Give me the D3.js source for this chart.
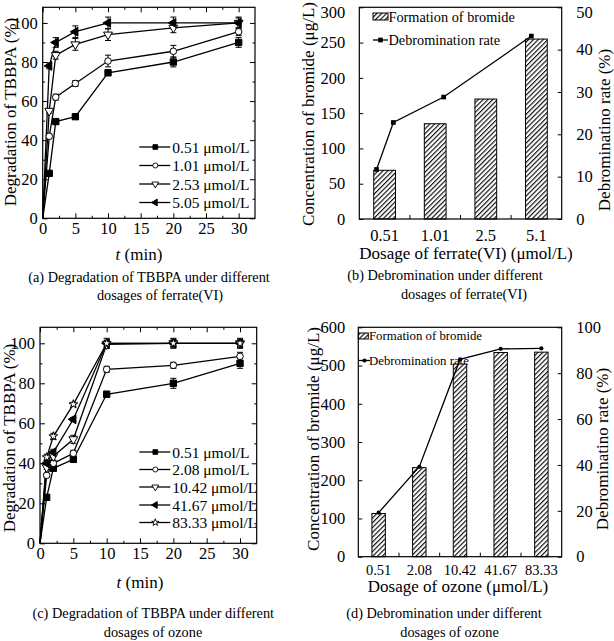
<!DOCTYPE html>
<html><head><meta charset="utf-8">
<script src="https://cdn.jsdelivr.net/npm/d3@7/dist/d3.min.js"></script>
<style>
body{margin:0;background:#fff}
svg{display:block;background:#fff}
text{font-family:"Liberation Serif","Times New Roman",serif;fill:#000}
</style>
</head><body>
<svg id="c" width="614" height="641"></svg>
<script>
// ---------- DATA ----------
// (a) ferrate(VI) degradation
const timeA = [0, 1, 2, 5, 10, 20, 30];
const legendA = ["0.51 μmol/L", "1.01 μmol/L", "2.53 μmol/L", "5.05 μmol/L"];
const degA051 = [0, 23, 49.5, 52, 74.5, 80, 90];
const degA101 = [0, 42, 62, 69, 80.5, 85.5, 95.5];
const degA253 = [0, 55, 83.5, 89, 94, 97.5, 100];
const degA505 = [0, 78, 90, 95.5, 100, 100, 100];
const errA051 = [0, 1.2, 1.2, 1.2, 1.5, 2.5, 2.5];
const errA101 = [0, 1.2, 1.5, 1.5, 3, 3, 2];
const errA253 = [0, 1.2, 2, 3, 3, 2.5, 2.5];
const errA505 = [0, 1.5, 2.5, 3, 3, 3, 3];

// (c) ozone degradation
const timeC = [0, 1, 2, 5, 10, 20, 30];
const legendC = ["0.51 μmol/L", "2.08 μmol/L", "10.42 μmol/L", "41.67 μmol/L", "83.33 μmol/L"];
const degC051 = [0, 23, 37.5, 42, 74.5, 80, 90];
const degC208 = [0, 34, 40, 45, 87, 89, 93.5];
const degC1042 = [0, 38, 43.5, 52, 99.5, 100, 100];
const degC4167 = [0, 40, 45.5, 62, 100, 100, 100];
const degC8333 = [0, 43, 53.5, 69.5, 100, 100, 100];
const errC051 = [0, 1, 1.5, 1.5, 1.5, 2.5, 2.5];
const errC208 = [0, 1, 1.5, 1.5, 1.5, 1.5, 2];
const errC1042 = [0, 1, 2, 2, 2, 1.5, 1.5];
const errC4167 = [0, 1, 1.5, 1, 1.5, 2, 2];
const errC8333 = [0, 1.5, 1.5, 1, 2.5, 2.5, 2.5];

const timeTicks = [0, 5, 10, 15, 20, 25, 30];
const degTicks = [0, 20, 40, 60, 80, 100];

// (b) ferrate(VI) debromination
const catsB = ["0.51", "1.01", "2.5", "5.1"];
const doseB = [0.51, 1.01, 2.5, 5.1];
const bromideB = [69, 135, 170, 255];
const rateB = [11.7, 22.8, 28.8, 43.2];
const leftTicksB = [0, 50, 100, 150, 200, 250, 300];
const rightTicksB = [0, 10, 20, 30, 40, 50];

// (d) ozone debromination
const catsD = ["0.51", "2.08", "10.42", "41.67", "83.33"];
const bromideD = [113, 233, 504, 534, 535];
const rateD = [19.2, 39.2, 86, 90.6, 90.8];
const leftTicksD = [0, 100, 200, 300, 400, 500, 600];
const rightTicksD = [0, 20, 40, 60, 80, 100];

// ---------- DRAWING ----------
const svg = d3.select("#c");
const defs = svg.append("defs");
const pat = defs.append("pattern").attr("id", "hatch").attr("patternUnits", "userSpaceOnUse")
  .attr("width", 3.4).attr("height", 3.4).attr("patternTransform", "rotate(45)");
pat.append("rect").attr("width", 3.4).attr("height", 3.4).attr("fill", "#fff");
pat.append("line").attr("x1", 0.6).attr("y1", 0).attr("x2", 0.6).attr("y2", 3.4)
  .attr("stroke", "#000").attr("stroke-width", 1.1);

const FF = '"Liberation Serif","Times New Roman",serif';
const TICKFS = 16.5, TITLEFS = 17, CAPFS = 14.3;

function styleAxis(sel, fs) {
  sel.attr("font-family", FF).attr("font-size", fs);
  sel.select(".domain").remove();
  sel.selectAll(".tick line").attr("stroke", "#000").attr("stroke-width", 1);
  sel.selectAll(".tick text").attr("fill", "#000");
}

function rotTitle(g, txt, cx, cy, fs) {
  g.append("text").attr("transform", `translate(${cx},${cy}) rotate(-90)`)
    .attr("text-anchor", "middle").attr("dominant-baseline", "central")
    .attr("font-family", FF).attr("font-size", fs).text(txt);
}
function ctext(g, txt, cx, y, fs) {
  return g.append("text").attr("x", cx).attr("y", y).attr("text-anchor", "middle")
    .attr("font-family", FF).attr("font-size", fs).text(txt);
}

function markerPath(kind, size) {
  const map = { square: d3.symbolSquare, circle: d3.symbolCircle, tri: d3.symbolTriangle, star: d3.symbolStar };
  return d3.symbol().type(map[kind]).size(size)();
}

function timePanel(box, times, series, legendLabels, legendRows, legendX) {
  const g = svg.append("g");
  const x = d3.scaleLinear().domain([0, 32.5]).range([box.l, box.r]);
  const y = d3.scaleLinear().domain([0, 108]).range([box.b, box.t]);
  const minorX = d3.range(2.5, 32.5, 5);
  const minorY = d3.range(10, 108, 20);
  g.append("g").attr("transform", `translate(0,${box.b})`)
    .call(d3.axisBottom(x).tickValues(timeTicks).tickSize(-5).tickPadding(4))
    .call(s => styleAxis(s, TICKFS));
  g.append("g").attr("transform", `translate(0,${box.b})`)
    .call(d3.axisBottom(x).tickValues(minorX).tickSize(-2.5).tickFormat(""))
    .call(s => styleAxis(s, TICKFS));
  g.append("g").attr("transform", `translate(0,${box.t})`)
    .call(d3.axisTop(x).tickValues(timeTicks).tickSize(-5).tickFormat(""))
    .call(s => styleAxis(s, TICKFS));
  g.append("g").attr("transform", `translate(0,${box.t})`)
    .call(d3.axisTop(x).tickValues(minorX).tickSize(-2.5).tickFormat(""))
    .call(s => styleAxis(s, TICKFS));
  g.append("g").attr("transform", `translate(${box.l},0)`)
    .call(d3.axisLeft(y).tickValues(degTicks).tickSize(-5).tickPadding(5))
    .call(s => styleAxis(s, TICKFS));
  g.append("g").attr("transform", `translate(${box.l},0)`)
    .call(d3.axisLeft(y).tickValues(minorY).tickSize(-2.5).tickFormat(""))
    .call(s => styleAxis(s, TICKFS));
  g.append("g").attr("transform", `translate(${box.r},0)`)
    .call(d3.axisRight(y).tickValues(degTicks).tickSize(-5).tickFormat(""))
    .call(s => styleAxis(s, TICKFS));
  g.append("g").attr("transform", `translate(${box.r},0)`)
    .call(d3.axisRight(y).tickValues(minorY).tickSize(-2.5).tickFormat(""))
    .call(s => styleAxis(s, TICKFS));

  const lg = g.append("g");
  series.forEach((s, i) => {
    const ly = legendRows[i];
    lg.append("line").attr("x1", legendX).attr("x2", legendX + 31).attr("y1", ly).attr("y2", ly)
      .attr("stroke", "#000").attr("stroke-width", 1.3);
    lg.append("path").attr("d", markerPath(s.kind, s.lsize))
      .attr("transform", `translate(${legendX + 16},${ly}) rotate(${s.rot || 0})`)
      .attr("fill", s.fill ? "#000" : "#fff").attr("stroke", "#000").attr("stroke-width", 0.9);
    lg.append("text").attr("x", legendX + 33).attr("y", ly).attr("dominant-baseline", "central")
      .attr("font-family", FF).attr("font-size", 15.5).text(legendLabels[i]);
  });

  const line = d3.line().x((d, i) => x(times[i])).y(d => y(d));
  series.forEach(s => {
    g.append("path").attr("d", line(s.values)).attr("fill", "none").attr("stroke", "#000").attr("stroke-width", 1.3);
  });
  series.forEach(s => {
    s.values.forEach((v, i) => {
      const e = s.err[i];
      if (e > 0) {
        const cx = x(times[i]);
        g.append("line").attr("x1", cx).attr("x2", cx).attr("y1", y(v - e)).attr("y2", y(v + e)).attr("stroke", "#000").attr("stroke-width", 1);
        [v - e, v + e].forEach(vv => g.append("line").attr("x1", cx - 3).attr("x2", cx + 3).attr("y1", y(vv)).attr("y2", y(vv)).attr("stroke", "#000").attr("stroke-width", 1));
      }
    });
  });
  series.forEach(s => {
    s.values.forEach((v, i) => {
      if (i === 0) return;
      g.append("path").attr("d", markerPath(s.kind, s.size))
        .attr("transform", `translate(${x(times[i])},${y(v)}) rotate(${s.rot || 0})`)
        .attr("fill", s.fill ? "#000" : "#fff").attr("stroke", "#000").attr("stroke-width", 1);
    });
  });

  g.append("rect").attr("x", box.l).attr("y", box.t).attr("width", box.r - box.l).attr("height", box.b - box.t)
    .attr("fill", "none").attr("stroke", "#000").attr("stroke-width", 1.2);
  return g;
}

// ----- Panel (a)
const boxA = { l: 42.7, r: 255, t: 7.3, b: 218.3 };
const gA = timePanel(boxA, timeA, [
  { values: degA051, err: errA051, kind: "square", fill: true, size: 40, lsize: 22 },
  { values: degA101, err: errA101, kind: "circle", fill: false, size: 34, lsize: 20 },
  { values: degA253, err: errA253, kind: "tri", rot: 180, fill: false, size: 34, lsize: 20 },
  { values: degA505, err: errA505, kind: "tri", rot: -90, fill: true, size: 34, lsize: 20 }
], legendA, [147, 165.5, 184, 202.5], 139.3);
rotTitle(gA, "Degradation of TBBPA (%)", 10, 112, TITLEFS);
const tA = gA.append("text").attr("x", 139).attr("y", 259.5).attr("text-anchor", "middle")
  .attr("font-family", FF).attr("font-size", TITLEFS);
tA.append("tspan").attr("font-style", "italic").text("t");
tA.append("tspan").text(" (min)");
ctext(gA, "(a) Degradation of TBBPA under different", 149, 281.5, CAPFS);
ctext(gA, "dosages of ferrate(VI)", 160, 299.5, CAPFS);

// ----- Panel (c)
const boxC = { l: 40, r: 256.7, t: 327.3, b: 543.3 };
const gC = timePanel(boxC, timeC, [
  { values: degC051, err: errC051, kind: "square", fill: true, size: 40, lsize: 22 },
  { values: degC208, err: errC208, kind: "circle", fill: false, size: 34, lsize: 20 },
  { values: degC1042, err: errC1042, kind: "tri", rot: 180, fill: false, size: 34, lsize: 20 },
  { values: degC4167, err: errC4167, kind: "tri", rot: -90, fill: true, size: 34, lsize: 20 },
  { values: degC8333, err: errC8333, kind: "star", fill: false, size: 24, lsize: 16 }
], legendC, [452, 469.5, 487, 505, 522.5], 139.3);
rotTitle(gC, "Degradation of TBBPA (%)", 9, 438, TITLEFS);
const tC = gC.append("text").attr("x", 140).attr("y", 587.5).attr("text-anchor", "middle")
  .attr("font-family", FF).attr("font-size", TITLEFS);
tC.append("tspan").attr("font-style", "italic").text("t");
tC.append("tspan").text(" (min)");
ctext(gC, "(c) Degradation of TBBPA under different", 153.3, 618, CAPFS);
ctext(gC, "dosages of ozone", 153, 636.5, CAPFS);

// ----- bar panels
function barPanel(box, xb, cats, bars, rate, rateX, yl, yr, leftTicks, rightTicks, padInner, opts) {
  const g = svg.append("g");

  const lAx = g.append("g").attr("transform", `translate(${box.l},0)`)
    .call(d3.axisLeft(yl).tickValues(leftTicks).tickSize(-4).tickPadding(opts.lpad))
    .call(s => styleAxis(s, TICKFS));
  const rAx = g.append("g").attr("transform", `translate(${box.r},0)`)
    .call(d3.axisRight(yr).tickValues(rightTicks).tickSize(-4).tickPadding(opts.rpad))
    .call(s => styleAxis(s, TICKFS));
  if (opts.nudgeTop) {
    lAx.selectAll(".tick text").filter(d => d === yl.domain()[1]).attr("dy", "0.62em");
    rAx.selectAll(".tick text").filter(d => d === yr.domain()[1]).attr("dy", "0.62em");
  }
  g.append("g").attr("transform", `translate(0,${box.b})`)
    .call(d3.axisBottom(xb).tickSize(0).tickPadding(opts.bpad))
    .call(s => styleAxis(s, opts.bfs));
  const bounds = cats.slice(1).map(c => xb(c) - xb.step() * padInner / 2);
  bounds.forEach(bx => g.append("line").attr("x1", bx).attr("x2", bx).attr("y1", box.b).attr("y2", box.b - 4)
    .attr("stroke", "#000").attr("stroke-width", 1));

  const L = opts.legend;
  g.append("rect").attr("x", L.bx).attr("y", L.by).attr("width", L.bw).attr("height", L.bh)
    .attr("fill", "url(#hatch)").attr("stroke", "#000").attr("stroke-width", 1);
  g.append("text").attr("x", L.tx).attr("y", L.y1).attr("dominant-baseline", "central")
    .attr("font-family", FF).attr("font-size", L.fs).text("Formation of bromide");
  g.append("line").attr("x1", L.lx1).attr("x2", L.lx2).attr("y1", L.y2).attr("y2", L.y2).attr("stroke", "#000").attr("stroke-width", 1.3);
  g.append("path").attr("d", markerPath(opts.mk, opts.mksize)).attr("transform", `translate(${(L.lx1 + L.lx2) / 2},${L.y2})`).attr("fill", "#000");
  g.append("text").attr("x", L.tx).attr("y", L.y2).attr("dominant-baseline", "central")
    .attr("font-family", FF).attr("font-size", L.fs).text("Debromination rate");

  g.selectAll("rect.bar").data(bars).join("rect").attr("class", "bar")
    .attr("x", (d, i) => xb(cats[i])).attr("width", xb.bandwidth())
    .attr("y", d => yl(d)).attr("height", d => box.b - yl(d))
    .attr("fill", "url(#hatch)").attr("stroke", "#000").attr("stroke-width", 1);

  const line = d3.line().x((d, i) => rateX(i)).y(d => yr(d));
  g.append("path").attr("d", line(rate)).attr("fill", "none").attr("stroke", "#000").attr("stroke-width", 1.3);
  rate.forEach((v, i) => g.append("path").attr("d", markerPath(opts.mk, opts.mksize))
    .attr("transform", `translate(${rateX(i)},${yr(v)})`).attr("fill", "#000"));

  g.append("rect").attr("x", box.l).attr("y", box.t).attr("width", box.r - box.l).attr("height", box.b - box.t)
    .attr("fill", "none").attr("stroke", "#000").attr("stroke-width", 1.2);
  return g;
}

// ----- Panel (b)
const boxB = { l: 359.3, r: 561.7, t: 7.3, b: 219 };
const xbB = d3.scaleBand().domain(catsB).range([boxB.l, boxB.r]).paddingInner(0.57).paddingOuter(0.285);
const xDoseB = d3.scaleLinear().domain([0, 6]).range([boxB.l, boxB.r]);
const ylB = d3.scaleLinear().domain([0, 300]).range([boxB.b, boxB.t]);
const yrB = d3.scaleLinear().domain([0, 50]).range([boxB.b, boxB.t]);
const gB = barPanel(boxB, xbB, catsB, bromideB, rateB, i => xDoseB(doseB[i]), ylB, yrB, leftTicksB, rightTicksB, 0.57, {
  lpad: 14, rpad: 14.5, bpad: 10, bfs: TICKFS, mk: "square", mksize: 22, nudgeTop: true,
  legend: { bx: 373, by: 13, bw: 15, bh: 7, tx: 388.5, y1: 16.5, lx1: 373, lx2: 388, y2: 40, fs: 14.3 }
});
rotTitle(gB, "Concentration of bromide (μg/L)", 308, 114, TITLEFS);
rotTitle(gB, "Debrominatino rate (%)", 604, 130, TITLEFS);
ctext(gB, "Dosage of ferrate(VI) (μmol/L)", 466, 259, TITLEFS);
ctext(gB, "(b) Debromination under different", 445, 279.5, CAPFS);
ctext(gB, "dosages of ferrate(VI)", 464, 298.5, CAPFS);

// ----- Panel (d)
const boxD = { l: 358.3, r: 561.7, t: 327.3, b: 556.7 };
const xbD = d3.scaleBand().domain(catsD).range([boxD.l, boxD.r]).paddingInner(0.67).paddingOuter(0.335);
const ylD = d3.scaleLinear().domain([0, 600]).range([boxD.b, boxD.t]);
const yrD = d3.scaleLinear().domain([0, 100]).range([boxD.b, boxD.t]);
const gD = barPanel(boxD, xbD, catsD, bromideD, rateD, i => xbD(catsD[i]) + xbD.bandwidth() / 2, ylD, yrD, leftTicksD, rightTicksD, 0.67, {
  lpad: 13, rpad: 14.5, bpad: 8, bfs: 14.5, mk: "circle", mksize: 14, nudgeTop: false,
  legend: { bx: 358.3, by: 333, bw: 10, bh: 6, tx: 369, y1: 335.5, lx1: 359, lx2: 370, y2: 360.5, fs: 12.8 }
});
rotTitle(gD, "Concentration of bromide (μg/L)", 313.5, 439, TITLEFS);
rotTitle(gD, "Debrominatino rate (%)", 602, 449, TITLEFS);
ctext(gD, "Dosage of ozone (μmol/L)", 458, 592, TITLEFS);
ctext(gD, "(d) Debromination under different", 444, 617.5, CAPFS);
ctext(gD, "dosages of ozone", 449.5, 636.5, CAPFS);
</script>
</body></html>
